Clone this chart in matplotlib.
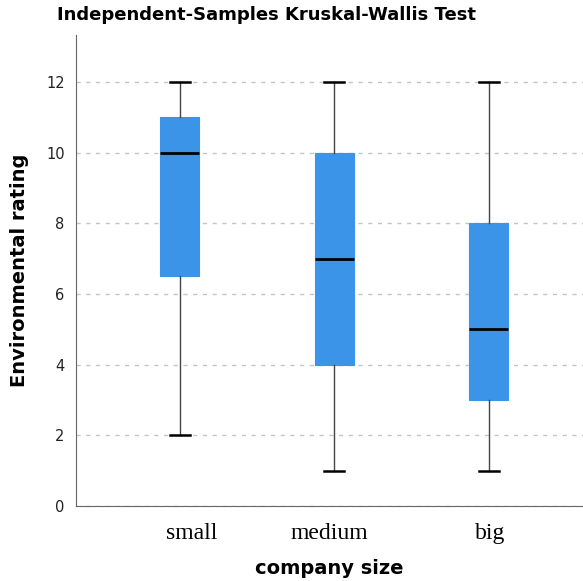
import matplotlib
matplotlib.use("Agg")
import matplotlib.pyplot as plt

# Data
groups = ["small", "medium", "big"]
whisker_low = [2, 1, 1]
q1 = [6.5, 4, 3]
medians = [10, 7, 5]
q3 = [11, 10, 8]
whisker_high = [12, 12, 12]
yticks = [0, 2, 4, 6, 8, 10, 12]

box_color = "#3b94e8"

fig = plt.figure(figsize=(5.83, 5.81), dpi=100)
ax = fig.add_axes([0.130, 0.129, 0.870, 0.811])

stats = []
for i, g in enumerate(groups):
    stats.append({
        "label": g, "whislo": whisker_low[i], "q1": q1[i], "med": medians[i],
        "q3": q3[i], "whishi": whisker_high[i], "fliers": [],
    })

positions = [1, 2, 3]
ax.bxp(stats, positions=positions, widths=0.25, patch_artist=True, showfliers=False,
       boxprops=dict(facecolor=box_color, edgecolor=box_color, linewidth=0.8),
       medianprops=dict(color="black", linewidth=2),
       whiskerprops=dict(color="#444444", linewidth=1.0),
       capprops=dict(color="black", linewidth=1.8),
       capwidths=0.13)

ax.set_xlim(0.327, 3.61)
ax.set_ylim(0, 13.33)
ax.set_yticks(yticks)
ax.yaxis.grid(True, linestyle=(0, (3, 4)), color="#c4c4c4", linewidth=1)
ax.set_axisbelow(True)

ax.set_xticks([1.08, 1.97, 3.01])
ax.set_xticklabels(groups, fontfamily="Liberation Serif", fontsize=17)
ax.tick_params(axis="x", length=0, pad=12)
ax.tick_params(axis="y", length=0, pad=8, labelsize=10.5, colors="#222222")

for s in ["top", "right"]:
    ax.spines[s].set_visible(False)
ax.spines["left"].set_color("#666666")
ax.spines["bottom"].set_color("#666666")

ax.set_xlabel("company size", fontsize=14, fontweight="bold", labelpad=11)
ax.set_ylabel("Environmental rating", fontsize=14, fontweight="bold", labelpad=12)
fig.text(0.457, 0.975, "Independent-Samples Kruskal-Wallis Test", ha="center", va="center",
         fontsize=13, fontweight="bold")

fig.savefig("out.png", dpi=100)
